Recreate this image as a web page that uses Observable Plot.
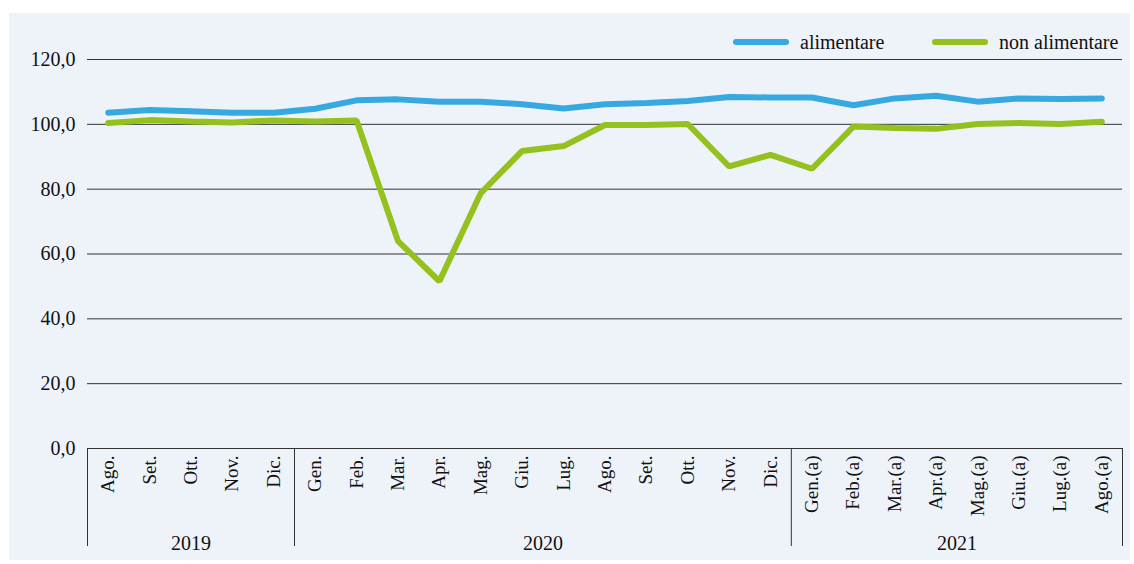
<!DOCTYPE html>
<html>
<head>
<meta charset="utf-8">
<script src="https://cdn.jsdelivr.net/npm/d3@7"></script>
<script src="https://cdn.jsdelivr.net/npm/@observablehq/plot@0.6"></script>
<style>
  html, body { margin: 0; padding: 0; background: #ffffff; }
  #wrap { position: relative; width: 1134px; height: 564px; overflow: hidden; }
  #panel { position: absolute; left: 9px; top: 13px; width: 1121px; height: 547px; background: #EEF3FA; }
  #chart { position: absolute; left: 0; top: 0; }
  #legend { position: absolute; top: 30px; left: 733px; font-family: "Liberation Serif", serif; font-size: 20px; line-height: 24px; color: #111; }
  .item { position: absolute; top: 0; white-space: nowrap; display: flex; align-items: center; }
  .sw { display: inline-block; width: 56px; height: 6px; border-radius: 3px; margin-right: 11px; }
</style>
</head>
<body>
<div id="wrap">
  <div id="panel"></div>
  <div id="chart"></div>
  <div id="legend"></div>
</div>
<script>
const months = ["Ago.","Set.","Ott.","Nov.","Dic.","Gen.","Feb.","Mar.","Apr.","Mag.","Giu.","Lug.","Ago.","Set.","Ott.","Nov.","Dic.","Gen.(a)","Feb.(a)","Mar.(a)","Apr.(a)","Mag.(a)","Giu.(a)","Lug.(a)","Ago.(a)"];
const years = ["2019", "2020", "2021"];
const yearCounts = [5, 12, 8];
const alimentare = [103.6,104.4,104.0,103.6,103.6,104.8,107.4,107.7,107.0,107.0,106.2,104.9,106.2,106.6,107.2,108.4,108.3,108.3,105.9,108.0,108.8,107.0,108.0,107.8,108.0];
const nonAlimentare = [100.4,101.3,100.9,100.6,101.2,100.9,101.2,64.0,51.6,78.8,91.8,93.3,99.8,99.8,100.1,87.0,90.6,86.3,99.3,98.9,98.6,100.1,100.4,100.1,100.8];
const seriesNames = ["alimentare", "non alimentare"];
const seriesColors = ["#36A9E1", "#95C11F"];
const yTicks = [0, 20, 40, 60, 80, 100, 120];

const rows = [];
[alimentare, nonAlimentare].forEach((vals, s) => vals.forEach((v, i) => rows.push({i, v, s: seriesNames[s]})));

const groups = [];
let start = 0;
years.forEach((y, k) => { groups.push({year: y, start, end: start + yearCounts[k] - 1}); start += yearCounts[k]; });
const boundaries = [groups[0].start - 0.5, ...groups.map(g => g.end + 0.5)];

const fmt = d => d.toFixed(1).replace(".", ",");
const serif = "'Liberation Serif', serif";

const chart = Plot.plot({
  width: 1134,
  height: 564,
  marginLeft: 87,
  marginRight: 12,
  marginTop: 59,
  marginBottom: 116,
  style: {background: "transparent", fontFamily: serif, fontSize: "19px", color: "#111"},
  x: {domain: [-0.5, months.length - 0.5], ticks: d3.range(months.length), tickFormat: i => months[i], tickSize: 0, tickRotate: -90, tickPadding: 7, label: null},
  y: {domain: [0, 120], ticks: yTicks, tickFormat: fmt, tickSize: 0, tickPadding: 12, label: null},
  color: {domain: seriesNames, range: seriesColors},
  marks: [
    Plot.ruleY(yTicks, {stroke: "#333", strokeWidth: 1}),
    Plot.ruleX(boundaries, {x: d => d, y1: 0, y2: 0, insetBottom: -98, stroke: "#333", strokeWidth: 1}),
    Plot.text(groups, {x: g => (g.start + g.end) / 2, y: 0, dy: 95, text: "year", fill: "#111", fontSize: 20}),
    Plot.line(rows, {x: "i", y: "v", z: "s", stroke: "s", strokeWidth: 6, strokeLinecap: "round", strokeLinejoin: "miter"})
  ]
});
const svg = d3.select(chart);
svg.selectAll("text").style("font-family", serif).style("fill", "#111");
svg.selectAll('[aria-label^="y-axis"] text').style("font-size", "20px");
svg.selectAll('[aria-label^="x-axis"] text').style("font-size", "19px");
document.getElementById("chart").appendChild(chart);

const legend = document.getElementById("legend");
const offsets = [0, 199];
seriesNames.forEach((n, k) => {
  const it = document.createElement("div");
  it.className = "item";
  it.style.left = offsets[k] + "px";
  it.innerHTML = `<span class="sw" style="background:${seriesColors[k]}"></span><span>${n}</span>`;
  legend.appendChild(it);
});
</script>
</body>
</html>
